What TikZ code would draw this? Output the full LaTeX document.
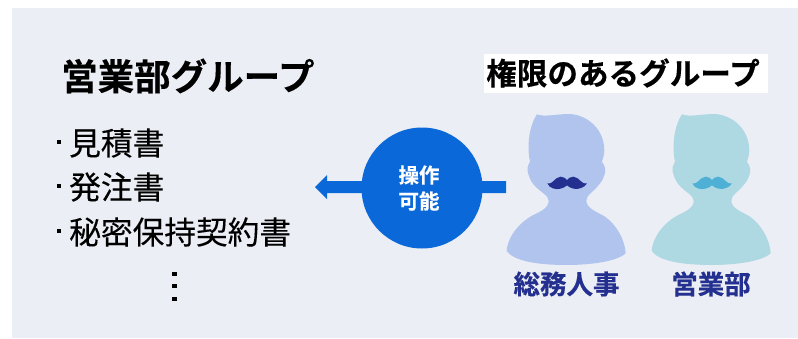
\documentclass[tikz,border=0pt]{standalone}
\usepackage{fontspec}
\setmainfont{Noto Sans CJK JP}
\newfontfamily\jpbold[FakeBold=0.35]{Noto Sans CJK JP Bold}
\newfontfamily\jpitem[FakeBold=0.15]{Noto Sans CJK JP}
\definecolor{panel}{HTML}{EBEEF4}
\definecolor{blueop}{HTML}{0B68D9}
\definecolor{navytext}{HTML}{24308F}
\definecolor{personA}{HTML}{B0C4EE}
\definecolor{personB}{HTML}{AFD9E2}
\definecolor{mustB}{HTML}{4FB0D6}
\tikzset{
  title/.style={font=\jpbold\fontsize{36.5}{36.5}\selectfont, text=black, inner sep=0pt, anchor=west},
  item/.style={font=\jpitem\fontsize{31.7}{32}\selectfont, text=black, inner sep=0pt, anchor=west},
  dot/.style={fill=black, inner sep=0pt, minimum size=4.5pt, rectangle},
  who/.style={font=\jpbold\fontsize{26.5}{27}\selectfont, text=navytext, inner sep=0pt},
  op/.style={font=\jpbold\fontsize{20.5}{21}\selectfont, text=white, inner sep=0pt}
}
\newcommand{\personshape}[3]{%
 \begin{scope}[shift={(#1,100)},x=0.3333pt,y=-0.3333pt]
 \fill[#2] (141,43) .. controls (165,52) and (195,42) .. (240,42)
   .. controls (290,45) and (342,85) .. (343,150)
   .. controls (343,170) and (336,180) .. (336,186)
   .. controls (345,195) and (350,215) .. (342,228)
   .. controls (338,242) and (330,250) .. (322,260)
   .. controls (310,275) and (289,285) .. (289,302)
   .. controls (289,325) and (320,335) .. (345,350)
   .. controls (380,375) and (405,420) .. (407,460)
   .. controls (380,485) and (300,495) .. (230,495)
   .. controls (150,495) and (70,485) .. (50,452)
   .. controls (55,400) and (100,360) .. (130,345)
   .. controls (150,335) and (176,325) .. (176,302)
   .. controls (176,287) and (150,275) .. (135,258)
   .. controls (125,248) and (120,238) .. (116,225)
   .. controls (108,205) and (115,195) .. (120,185)
   .. controls (112,150) and (113,85) .. (141,43) -- cycle;
 \fill[#3] (172,250) .. controls (188,256) and (192,232) .. (212,230)
   .. controls (222,230) and (228,236) .. (231,240)
   .. controls (234,236) and (240,230) .. (250,230)
   .. controls (270,232) and (275,256) .. (291,250)
   .. controls (285,262) and (265,270) .. (250,266)
   .. controls (242,264) and (235,260) .. (231,256)
   .. controls (227,260) and (220,264) .. (212,266)
   .. controls (197,270) and (178,265) .. (172,250) -- cycle;
 \end{scope}}
\begin{document}
\begin{tikzpicture}[x=1pt,y=-1pt]
\useasboundingbox (0,0) rectangle (798,338);
\fill[panel] (12,8) rectangle (798,338);
% left
\node[title] (t1) at (61,76) {営業部グループ};
\node[dot] (d1) at (59,142) {};
\node[item] (i1) at (69,143) {見積書};
\node[dot] (d2) at (59,186) {};
\node[item] (i2) at (69,187) {発注書};
\node[dot] (d3) at (59,231) {};
\node[item] (i3) at (69,232) {秘密保持契約書};
\node[dot] (v1) at (174.5,274) {};
\node[dot] (v2) at (174.5,286) {};
\node[dot] (v3) at (174.5,299) {};
% arrow
\coordinate (tail) at (506,187);
\coordinate (tip) at (315,187);
\fill[blueop] (506,181) -- (327,181) -- (327,175) -- (315,187) -- (327,199) -- (327,193) -- (506,193) -- cycle;
\node[circle,fill=blueop,minimum size=121pt,inner sep=0pt] (c) at (422,188) {};
\node[op] (o1) at (419,175) {操作};
\node[op] (o2) at (419,201) {可能};
% right
\fill[white] (484,54) rectangle (768,93);
\node[title,font=\jpbold\fontsize{30.6}{31}\selectfont] (t2) at (486,73) {権限のあるグループ};
\personshape{490}{personA}{navytext}
\personshape{635}{personB}{mustB}
\node[who] (w1) at (566.5,284) {総務人事};
\node[who] (w2) at (711,284) {営業部};
\end{tikzpicture}
\end{document}
